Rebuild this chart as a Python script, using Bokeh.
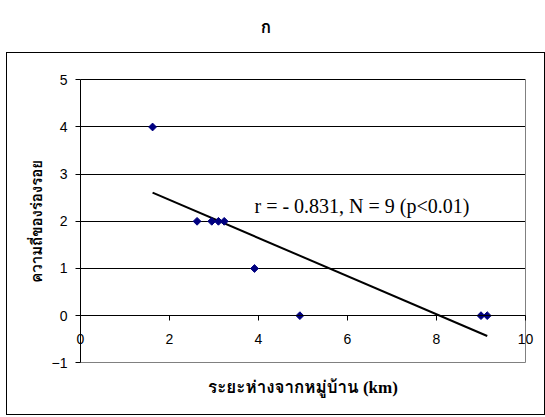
import numpy as np
from bokeh.plotting import figure
from bokeh.models import Range1d, FixedTicker, Label, Div, Grid
from bokeh.layouts import column
from bokeh.embed import file_html
from bokeh.resources import INLINE

# data
distance_km = [1.62, 2.62, 2.95, 3.10, 3.23, 3.91, 4.93, 9.00, 9.14]
trace_freq = [4, 2, 2, 2, 2, 1, 0, 0, 0]
x_ticks = [0, 2, 4, 6, 8, 10]
y_ticks = [-1, 0, 1, 2, 3, 4, 5]
title_text = "ก"
x_label = "ระยะห่างจากหมู่บ้าน (km)"
y_label = "ความถี่ของร่องรอย"
stat_text = "r = - 0.831, N = 9 (p<0.01)"

slope, intercept = np.polyfit(distance_km, trace_freq, 1)
fit_x = [min(distance_km), max(distance_km)]
fit_y = [slope * v + intercept for v in fit_x]

THAI_FONT = "Liberation Serif, Tahoma, Loma, Garuda, Noto Sans Thai Looped, Noto Sans Thai, serif"

title_div = Div(
    text=f'<div style="width:532px;text-align:center;font-family:Liberation Sans,Tahoma,Loma,sans-serif;font-size:17px;font-weight:bold;padding-top:16px;">{title_text}</div>',
    width=545, height=52, margin=(0, 0, 0, 0),
)

# plot area is 0..10 x -1..5; the frame is widened so the axes' labels sit inside it
p = figure(width=539, height=363, x_range=Range1d(-1.640, 10.472), y_range=Range1d(-2.138, 5.558),
           output_backend="svg", toolbar_location=None,
           min_border_left=0, min_border_right=0, min_border_top=0, min_border_bottom=0)
p.margin = (0, 0, 0, 6)
p.styles = {"border": "1px solid #000000"}
p.background_fill_color = "white"
p.border_fill_color = "white"
p.outline_line_color = None

p.xgrid.visible = False
p.ygrid.ticker = FixedTicker(ticks=[0, 1, 2, 3, 4, 5])
p.ygrid.cross_bounds = (0, 10)
p.ygrid.grid_line_color = "#000000"
p.ygrid.grid_line_width = 1
p.add_layout(Grid(dimension=1, ticker=FixedTicker(ticks=[-1]), cross_bounds=(0, 10),
                  grid_line_color="#808080", grid_line_width=1))
p.add_layout(Grid(dimension=0, ticker=FixedTicker(ticks=[10]), cross_bounds=(-1, 5),
                  grid_line_color="#808080", grid_line_width=1))

p.xaxis.ticker = FixedTicker(ticks=x_ticks)
p.xaxis.fixed_location = 0
p.xaxis.bounds = (0, 10)
p.yaxis.ticker = FixedTicker(ticks=y_ticks)
p.yaxis.fixed_location = 0
p.yaxis.bounds = (-1, 5)
for ax in (p.xaxis, p.yaxis):
    ax.axis_line_color = "#000000"
    ax.major_tick_line_color = "#000000"
    ax.major_tick_in = 0
    ax.major_tick_out = 5
    ax.minor_tick_line_color = None
    ax.major_label_text_font = "Liberation Sans"
    ax.major_label_text_font_size = "14px"
    ax.major_label_text_color = "#000000"
p.xaxis.major_label_standoff = 13
p.yaxis.major_label_standoff = 8

p.line(fit_x, fit_y, line_color="#000000", line_width=2)
p.scatter(distance_km, trace_freq, marker="square", angle=np.pi / 4, size=5.5,
          fill_color="#000080", line_color="#000080")

p.add_layout(Label(x=3.91, y=2.33, text=stat_text, text_font="Liberation Serif",
                   text_font_size="20px", text_color="#000000", text_baseline="alphabetic"))
p.add_layout(Label(x=5, y=-1.52, text=x_label, text_align="center", text_baseline="middle",
                   text_font=THAI_FONT, text_font_style="bold",
                   text_font_size="17px", text_color="#000000"))
p.add_layout(Label(x=-0.97, y=2, text=y_label, angle=np.pi / 2, text_align="center",
                   text_baseline="middle", text_font=THAI_FONT, text_font_style="bold",
                   text_font_size="15px", text_color="#000000"))

layout = column(title_div, p, spacing=0)
open("out.html", "w").write(file_html(layout, INLINE))
